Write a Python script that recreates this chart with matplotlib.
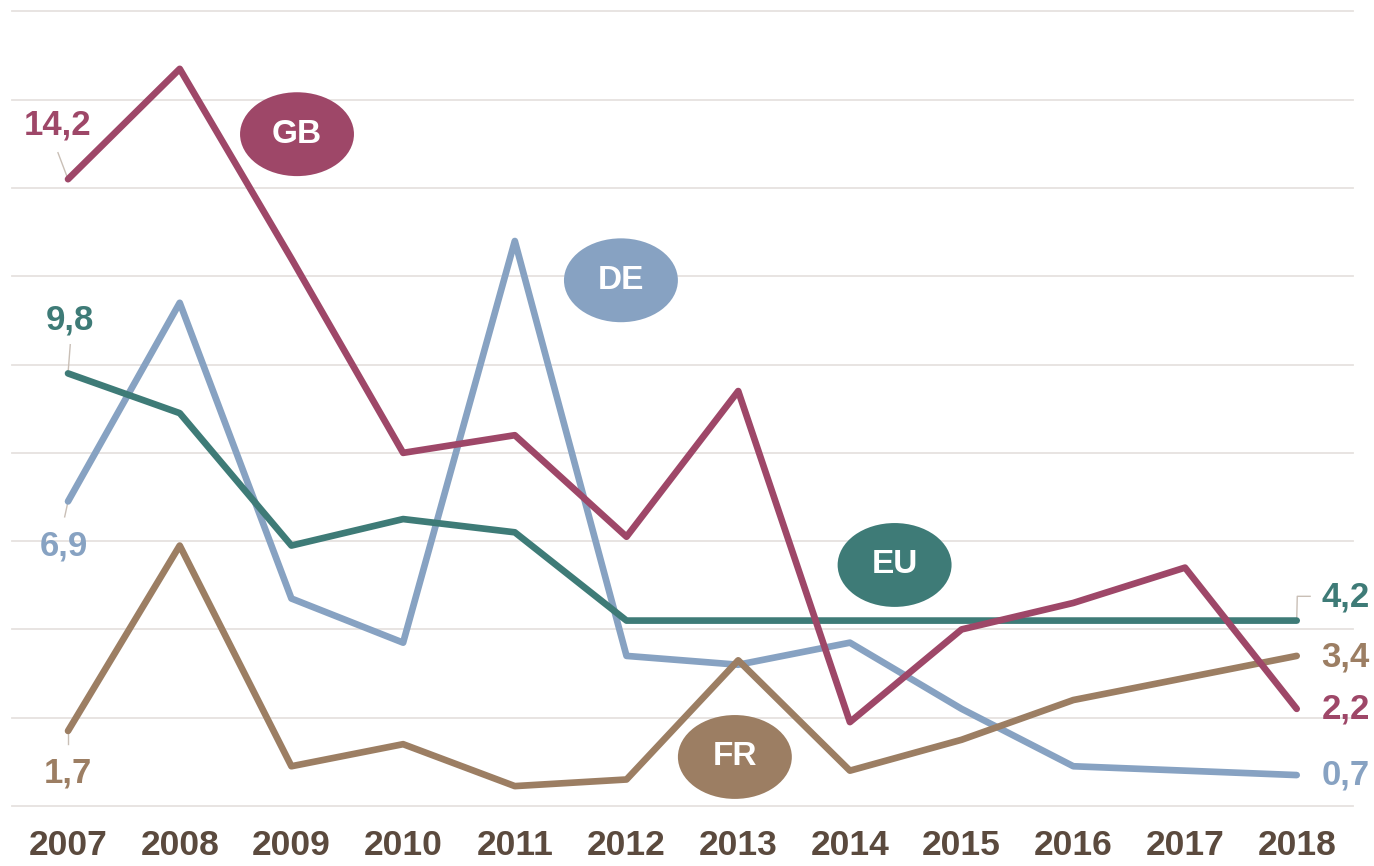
import numpy as np
import matplotlib.pyplot as plt
from matplotlib.patches import Ellipse

plt.rcParams['font.family'] = ['Liberation Sans', 'DejaVu Sans']

years = list(range(2007, 2019))
gb = [14.2, 16.7, 12.4, 8.0, 8.4, 6.1, 9.4, 1.9, 4.0, 4.6, 5.4, 2.2]
de = [6.9, 11.4, 4.7, 3.7, 12.8, 3.4, 3.2, 3.7, 2.2, 0.9, 0.8, 0.7]
eu = [9.8, 8.9, 5.9, 6.5, 6.2, 4.2, 4.2, 4.2, 4.2, 4.2, 4.2, 4.2]
fr = [1.7, 5.9, 0.9, 1.4, 0.45, 0.6, 3.3, 0.8, 1.5, 2.4, 2.9, 3.4]

series = {"GB": gb, "DE": de, "EU": eu, "FR": fr}
colors = {"GB": "#9e4768", "DE": "#87a2c2", "EU": "#3e7b77", "FR": "#9c7e63"}
draw_order = ["DE", "FR", "EU", "GB"]

fig = plt.figure(figsize=(13.74, 8.66), dpi=100)
ax = fig.add_axes([0, 0, 1, 1])
ax.set_xlim(2006.391, 2018.692)
ax.set_ylim(-1.36, 18.26)
ax.axis("off")

# gridlines
for g in range(0, 20, 2):
    ax.plot([2006.5, 2018.5], [g, g], color="#e6e2df", lw=1.3, zorder=0)

for name in draw_order:
    ax.plot(years, series[name], color=colors[name], lw=4.8,
            solid_capstyle="round", solid_joinstyle="round", zorder=3)

# year labels (kept just inside the bottom edge)
for yr in years:
    ax.text(yr, -0.9, str(yr), ha="center", va="center", fontsize=25.5,
            fontweight="bold", color="#5b4a3e")

def fmt(v):
    return f"{v:.1f}".replace(".", ",")

lead = "#c9bfb6"
lbl = 25
# start labels
ax.plot([2007, 2006.91], [gb[0], gb[0] + 0.6], color=lead, lw=1, zorder=2)
ax.text(2006.91, 15.42, fmt(gb[0]), ha="center", va="center", fontsize=lbl,
        fontweight="bold", color=colors["GB"])
ax.plot([2007, 2007.02], [eu[0], eu[0] + 0.65], color=lead, lw=1, zorder=2)
ax.text(2007.02, 11.0, fmt(eu[0]), ha="center", va="center", fontsize=lbl,
        fontweight="bold", color=colors["EU"])
ax.plot([2007, 2006.97], [de[0], de[0] - 0.35], color=lead, lw=1, zorder=2)
ax.text(2006.96, 5.9, fmt(de[0]), ha="center", va="center", fontsize=lbl,
        fontweight="bold", color=colors["DE"])
ax.plot([2007, 2007], [fr[0], fr[0] - 0.3], color=lead, lw=1, zorder=2)
ax.text(2007.0, 0.75, fmt(fr[0]), ha="center", va="center", fontsize=lbl,
        fontweight="bold", color=colors["FR"])

# end labels
ax.plot([2018, 2018.005, 2018.12], [eu[-1], eu[-1] + 0.55, eu[-1] + 0.55],
        color=lead, lw=1, zorder=2)
end_y = {"EU": 4.73, "FR": 3.38, "GB": 2.2, "DE": 0.7}
for name, yv in end_y.items():
    ax.text(2018.22, yv, fmt(series[name][-1]), ha="left", va="center",
            fontsize=lbl, fontweight="bold", color=colors[name])

# name badges
badges = {"GB": (2009.05, 15.22), "DE": (2011.95, 11.91),
          "EU": (2014.40, 5.46), "FR": (2012.97, 1.11)}
for name, (bx, by) in badges.items():
    ax.add_patch(Ellipse((bx, by), 1.02, 1.9, facecolor=colors[name],
                         edgecolor="none", zorder=5))
    ax.text(bx, by, name, ha="center", va="center", fontsize=24,
            fontweight="bold", color="white", zorder=6)

fig.savefig("out.png", dpi=100)
plt.close()
